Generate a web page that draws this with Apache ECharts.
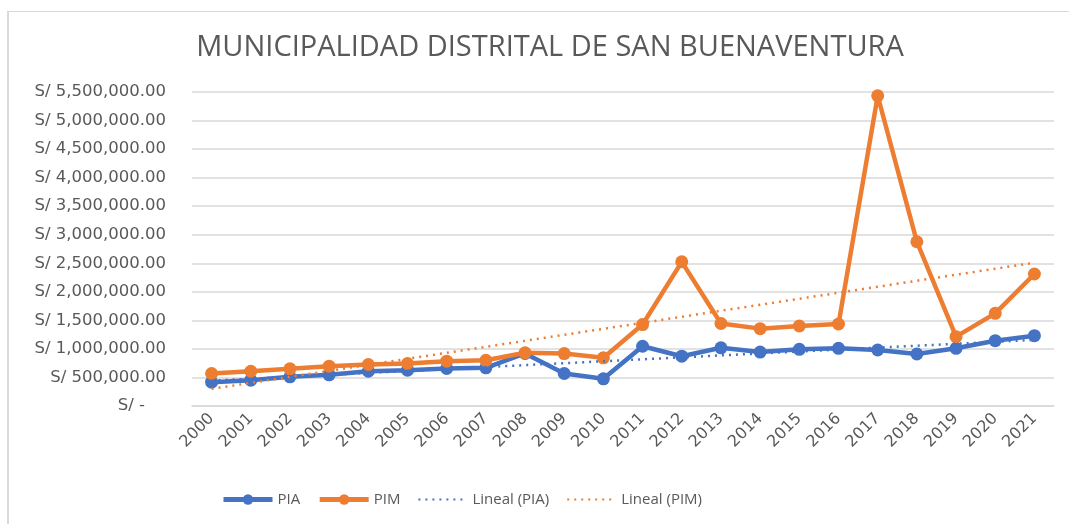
<!DOCTYPE html>
<html>
<head>
<meta charset="utf-8">
<script src="https://cdn.jsdelivr.net/npm/echarts@6/dist/echarts.min.js"></script>
<style>
  html, body { margin: 0; padding: 0; background: #fff; }
  #chart { width: 1069px; height: 524px; }
</style>
</head>
<body>
<div id="chart"></div>
<script>
// datos
const years = ['2000', '2001', '2002', '2003', '2004', '2005', '2006', '2007', '2008', '2009', '2010',
  '2011', '2012', '2013', '2014', '2015', '2016', '2017', '2018', '2019', '2020', '2021']
const pia = [417000, 452000, 511000, 546000, 609000, 627000, 657000, 669000, 920000, 569000, 476000,
  1047000, 872000, 1019000, 945000, 993000, 1011000, 981000, 911000, 1011000, 1144000, 1231000]
const pim = [569000, 609000, 651000, 697000, 727000, 744000, 785000, 800000, 932000, 919000, 844000,
  1427000, 2525000, 1445000, 1355000, 1401000, 1436000, 5434000, 2877000, 1214000, 1623000, 2312000]
// lineas de tendencia: valor en el primer y ultimo año
const trendPia = [444000, 1158000]
const trendPim = [300000, 2510000]

const BLUE = '#4472C4'
const ORANGE = '#ED7D31'
const INK = '#595959'
const GRID = '#d9d9d9'
const FONT = '"Open Sans", "Liberation Sans", sans-serif'
const AXIS_FONT = '"DejaVu Sans", sans-serif'

// solo extremos, el resto null -> recta entre 2000 y 2021
function trendData(ends) {
  return years.map((_, i) => i === 0 ? ends[0] : (i === years.length - 1 ? ends[1] : null))
}

function money(v) {
  if (v === 0) return 'S/ -    '
  return 'S/ ' + v.toLocaleString('en-US', { minimumFractionDigits: 2, maximumFractionDigits: 2 })
}

const chart = echarts.init(document.getElementById('chart'))
chart.setOption({
  animation: false,
  textStyle: { fontFamily: FONT },
  title: {
    text: 'MUNICIPALIDAD DISTRITAL DE SAN BUENAVENTURA',
    left: 545, top: 28, textAlign: 'center',
    textStyle: { color: INK, fontSize: 29, fontWeight: 'normal', fontFamily: FONT }
  },
  graphic: [
    { type: 'line', shape: { x1: 8, y1: 11, x2: 8, y2: 524 }, style: { stroke: '#d9d9d9', lineWidth: 2 } },
    { type: 'line', shape: { x1: 8, y1: 11.5, x2: 1069, y2: 11.5 }, style: { stroke: '#d9d9d9', lineWidth: 1 } }
  ],
  legend: {
    left: 216, top: 487,
    itemWidth: 49, itemHeight: 13, itemGap: 17,
    textStyle: { color: INK, fontSize: 15, fontFamily: FONT },
    data: [
      { name: 'PIA', lineStyle: { width: 5 } },
      { name: 'PIM', lineStyle: { width: 5 } },
      { name: 'Lineal (PIA)', itemStyle: { opacity: 0 } },
      { name: 'Lineal (PIM)', itemStyle: { opacity: 0 } }
    ]
  },
  grid: { left: 192, right: 15, top: 92, bottom: 118 },
  xAxis: {
    type: 'category',
    data: years,
    axisLine: { lineStyle: { color: GRID, width: 1.5 } },
    axisTick: { show: false },
    axisLabel: { color: INK, fontSize: 16, fontFamily: AXIS_FONT, rotate: 45, margin: 10, interval: 0 }
  },
  yAxis: {
    type: 'value',
    min: 0, max: 5500000, interval: 500000,
    axisLine: { show: false },
    axisTick: { show: false },
    splitLine: { lineStyle: { color: GRID, width: 1.5 } },
    axisLabel: { color: INK, fontSize: 16.5, fontFamily: AXIS_FONT, margin: 26, formatter: money }
  },
  series: [
    {
      name: 'PIA', type: 'line', data: pia,
      symbol: 'circle', symbolSize: 13,
      lineStyle: { color: BLUE, width: 4.5 },
      itemStyle: { color: BLUE },
      z: 3
    },
    {
      name: 'PIM', type: 'line', data: pim,
      symbol: 'circle', symbolSize: 13,
      lineStyle: { color: ORANGE, width: 4.5 },
      itemStyle: { color: ORANGE },
      z: 4
    },
    {
      name: 'Lineal (PIA)', type: 'line', data: trendData(trendPia),
      connectNulls: true, symbol: 'none',
      lineStyle: { color: BLUE, width: 2.5, type: [2, 5] },
      itemStyle: { color: BLUE },
      z: 5
    },
    {
      name: 'Lineal (PIM)', type: 'line', data: trendData(trendPim),
      connectNulls: true, symbol: 'none',
      lineStyle: { color: ORANGE, width: 2.5, type: [2, 5] },
      itemStyle: { color: ORANGE },
      z: 5
    }
  ]
})
</script>
</body>
</html>
